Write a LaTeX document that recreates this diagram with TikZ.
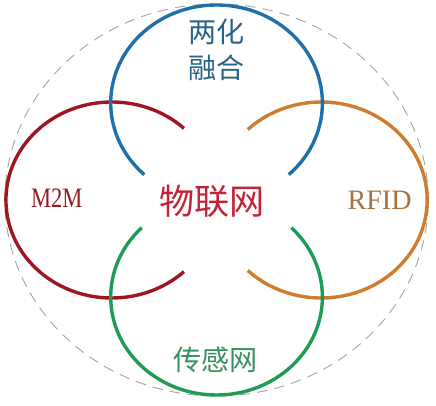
\documentclass[tikz,border=0pt]{standalone}
\usepackage{fontspec}
\setmainfont{Liberation Serif}
\newfontfamily\cjk{Noto Sans CJK SC}
\usetikzlibrary{calc}
\definecolor{petalblue}{RGB}{31,111,170}
\definecolor{petalred}{RGB}{160,22,32}
\definecolor{petalorange}{RGB}{205,125,45}
\definecolor{petalgreen}{RGB}{30,155,85}
\definecolor{hubred}{RGB}{195,35,55}
\definecolor{labelblue}{RGB}{40,100,135}
\definecolor{labelred}{RGB}{150,25,35}
\definecolor{labelbrown}{RGB}{165,115,65}
\definecolor{labelgreen}{RGB}{55,145,95}
\tikzstyle{iot petals}=[
    x=0.03cm,y=0.03cm,xscale=1.08,
    every node/.style={
        align=center,
        inner sep=0pt,
    },
    petal/.style={line width=2.9pt},
    outline/.style={gray!70, line width=0.8pt, dash pattern=on 9pt off 6pt},
    cjklabel/.style={font=\cjk\fontsize{24}{31}\selectfont},
    latinlabel/.style={font=\fontsize{24}{28}\selectfont},
]
\newcommand{\petalarc}[4]{\draw[petal,#1] ($(#2)+(#3:98)$) arc[start angle=#3, end angle=#4, radius=98];}

\begin{document}
\begin{tikzpicture}[iot petals]
        \useasboundingbox (-200.5,-205) rectangle (203.2,200);
        \coordinate (hub) at (0,0);
        \coordinate (top) at (0,97);
        \coordinate (left) at (-97,0);
        \coordinate (right) at (97,0);
        \coordinate (bottom) at (0,-97);

        % outer ring and the four petals
        \draw[outline] (hub) circle[radius=196];
        \petalarc{petalred}{left}{47}{313}
        \petalarc{petalorange}{right}{-134}{134}
        \petalarc{petalblue}{top}{-47}{227}
        \petalarc{petalgreen}{bottom}{135}{405}

        \node[cjklabel, text=labelblue] (lianghua) at (0,150) {两化\\融合};
        \node[latinlabel, text=labelred] (m2m) at (-148,2) {\scalebox{0.8}[1]{M2M}};
        \node[latinlabel, text=labelbrown] (rfid) at (151,0) {RFID};
        \node[font=\cjk\fontsize{30}{36}\selectfont, text=hubred] (iot) at (-4,-1) {物联网};
        \node[cjklabel, text=labelgreen] (sensor) at (-1,-160) {传感网};
    \end{tikzpicture}
\end{document}
